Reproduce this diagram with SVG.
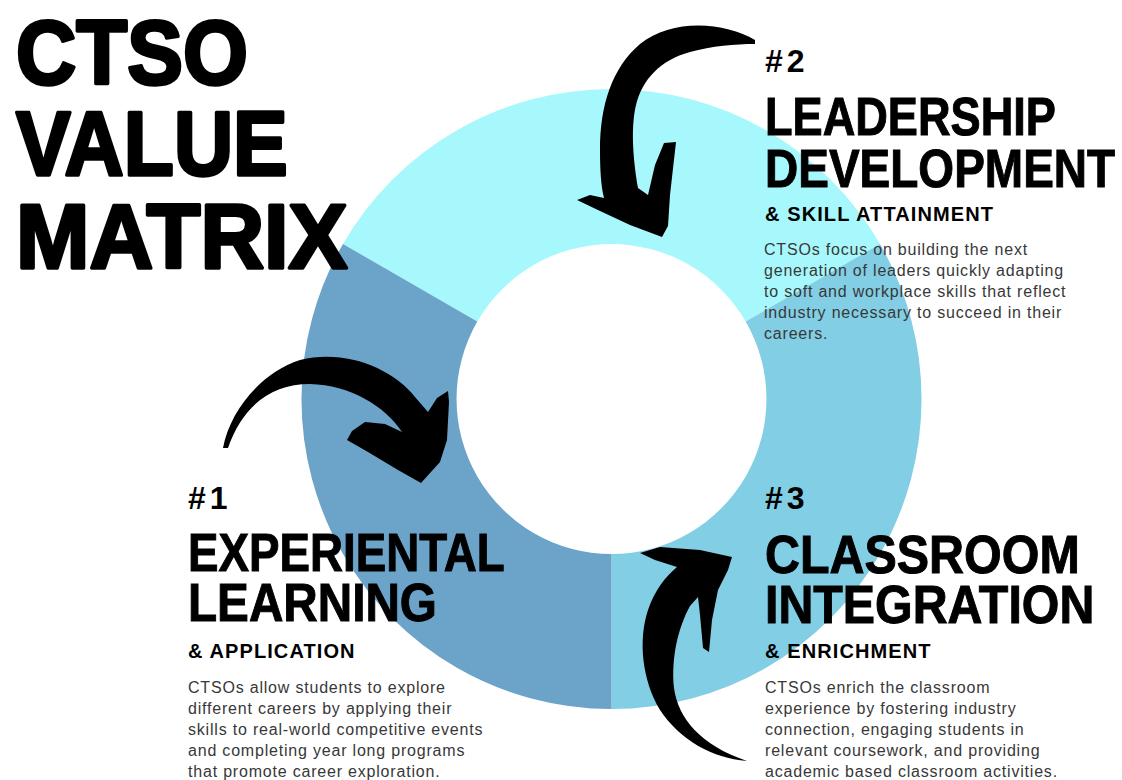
<svg xmlns="http://www.w3.org/2000/svg" width="1122" height="780" viewBox="0 0 1122 780">
<style>
.title{font-family:"Liberation Sans",Arial,sans-serif;font-weight:bold;font-size:91px;fill:#000;stroke:#000;stroke-width:3.5px;stroke-linejoin:round}
.num{font-family:"Liberation Sans",Arial,sans-serif;font-weight:bold;font-size:32px;fill:#000;letter-spacing:4px}
.head{font-family:"Liberation Sans",Arial,sans-serif;font-weight:bold;font-size:54px;fill:#000;stroke:#000;stroke-width:1px}
.sub{font-family:"Liberation Sans",Arial,sans-serif;font-weight:bold;font-size:20px;fill:#000;letter-spacing:1.1px}
.body{font-family:"Liberation Sans",Arial,sans-serif;font-size:16px;fill:#383838;letter-spacing:0.8px}
.arrow{fill:#000}
</style>
<rect width="1122" height="780" fill="#fff"/>
<g id="donut">
<path id="seg-top" d="M343,244 A310,310 0 0 1 880,244 L745.7,321.5 A155,155 0 0 0 477.3,321.5 Z" fill="#a7f8fc"/>
<path id="seg-right" d="M880,244 A310,310 0 0 1 611.5,709 L611.5,554 A155,155 0 0 0 745.7,321.5 Z" fill="#82cee4"/>
<path id="seg-left" d="M611.5,709 A310,310 0 0 1 343,244 L477.3,321.5 A155,155 0 0 0 611.5,554 Z" fill="#6ba4c8"/>
</g>
<g id="title">
<text class="title" transform="translate(16,84) scale(0.918,1)">CTSO</text>
<text class="title" transform="translate(16,175) scale(0.901,1)">VALUE</text>
<text class="title" transform="translate(16,268) scale(0.969,1)">MATRIX</text>
</g>
<g id="node-leadership">
<text class="num" x="765" y="72">#2</text>
<text class="head" transform="translate(765,135) scale(0.836,1)">LEADERSHIP</text>
<text class="head" transform="translate(765,187) scale(0.852,1)">DEVELOPMENT</text>
<text class="sub" x="765" y="221">&amp; SKILL ATTAINMENT</text>
<text class="body" x="764" y="255">CTSOs focus on building the next</text>
<text class="body" x="764" y="276">generation of leaders quickly adapting</text>
<text class="body" x="764" y="297">to soft and workplace skills that reflect</text>
<text class="body" x="764" y="318">industry necessary to succeed in their</text>
<text class="body" x="764" y="339">careers.</text>
</g>
<g id="node-experiential">
<text class="num" x="188" y="509">#1</text>
<text class="head" transform="translate(188,571) scale(0.847,1)">EXPERIENTAL</text>
<text class="head" transform="translate(188,621) scale(0.883,1)">LEARNING</text>
<text class="sub" x="188" y="658">&amp; APPLICATION</text>
<text class="body" x="188" y="693">CTSOs allow students to explore</text>
<text class="body" x="188" y="714">different careers by applying their</text>
<text class="body" x="188" y="735">skills to real-world competitive events</text>
<text class="body" x="188" y="756">and completing year long programs</text>
<text class="body" x="188" y="777">that promote career exploration.</text>
</g>
<g id="node-classroom">
<text class="num" x="765" y="509">#3</text>
<text class="head" transform="translate(765,573) scale(0.897,1)">CLASSROOM</text>
<text class="head" transform="translate(765,623) scale(0.895,1)">INTEGRATION</text>
<text class="sub" x="765" y="658">&amp; ENRICHMENT</text>
<text class="body" x="765" y="693">CTSOs enrich the classroom</text>
<text class="body" x="765" y="714">experience by fostering industry</text>
<text class="body" x="765" y="735">connection, engaging students in</text>
<text class="body" x="765" y="756">relevant coursework, and providing</text>
<text class="body" x="765" y="777">academic based classroom activities.</text>
</g>
<g id="connectors">
<path id="arrow-top" class="arrow" d="M755,40 C725,22 672,18 640,44 C612,68 600,105 600,150 C600,170 601,186 604,198 L590,195 L577,200 L600,211 L630,225 L662,237 L668,226 L670,195 L676,142 L664,143 L655,165 L648,195 L638,188 C634,165 630,130 636,105 C642,80 660,60 690,52 C712,46 735,44 755,44 Z"/>
<path id="arrow-left" class="arrow" d="M223,448 C230,410 262,372 300,360 C345,349 392,368 415,397 L428,412 L437,398 L448,391 L449,402 L447,440 L440,462 L421,483 L398,470 L368,452 L347,440 L352,431 L365,422 L385,424 L402,432 C385,406 350,385 310,384 C272,384 243,405 228,448 Z"/>
<path id="arrow-bottom" class="arrow" d="M747,761 C712,758 680,740 660,710 C642,680 638,640 648,610 C655,590 665,577 677,567 L655,560 L640,553 L660,547 L700,550 L732,557 L728,570 L718,590 L712,620 L709,652 L703,648 L700,615 L698,597 L690,606 C678,628 671,658 674,688 C678,718 700,745 747,761 Z"/>
</g>
</svg>
